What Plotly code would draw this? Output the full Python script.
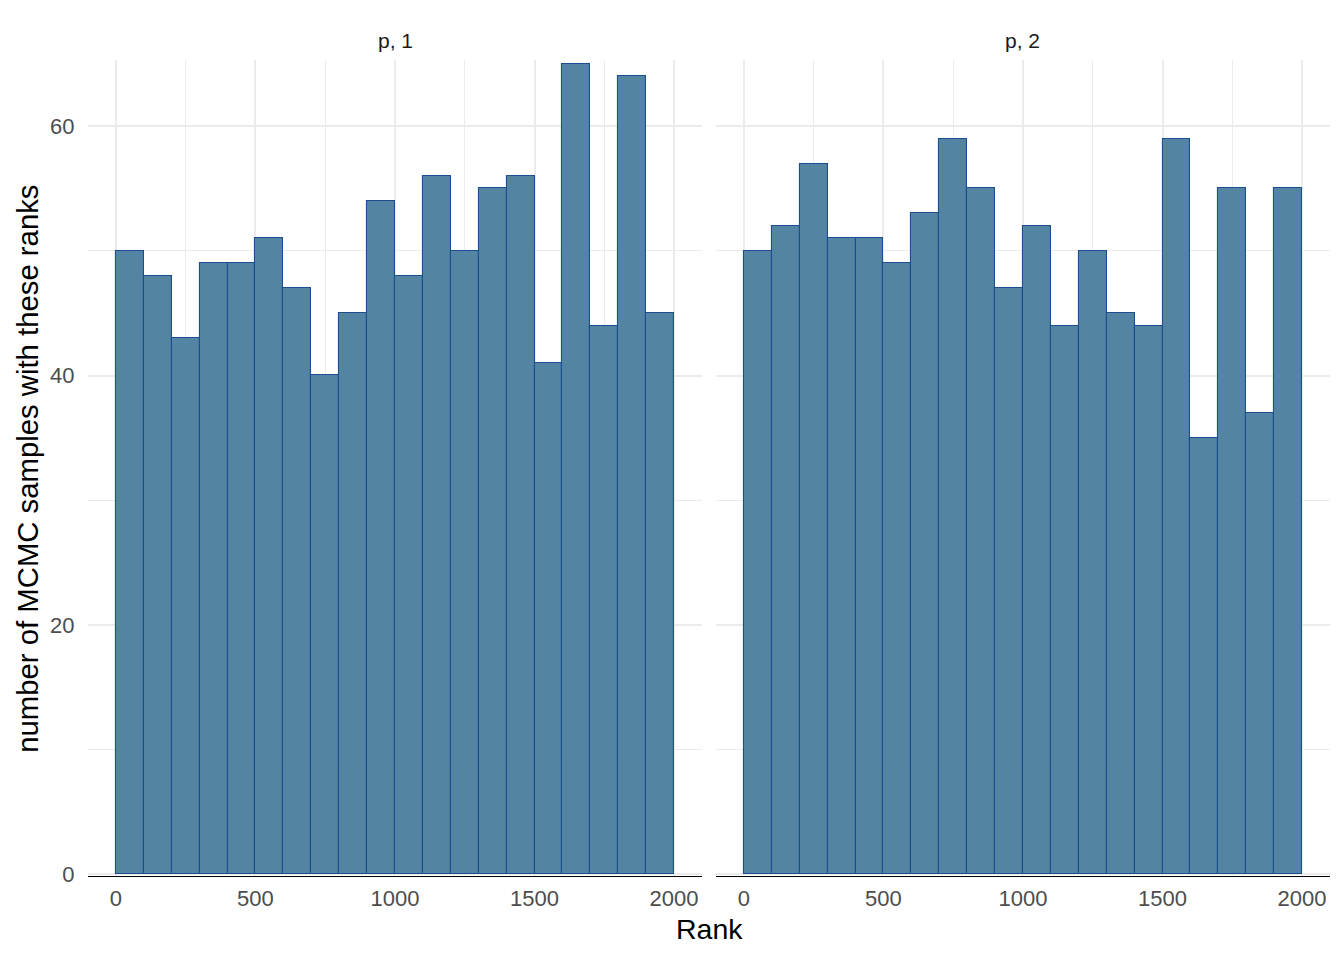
import plotly.graph_objects as go

# Data
bin_starts = list(range(0, 2000, 100))
bin_width = 100
counts_p1 = [50, 48, 43, 49, 49, 51, 47, 40, 45, 54, 48, 56, 50, 55, 56, 41, 65, 44, 64, 45]
counts_p2 = [50, 52, 57, 51, 51, 49, 53, 59, 55, 47, 52, 44, 50, 45, 44, 59, 35, 55, 37, 55]
panel_titles = ["p, 1", "p, 2"]
x_tickvals = [0, 500, 1000, 1500, 2000]
y_tickvals = [0, 20, 40, 60]

FILL = "#5384a4"
EDGE = "#1b4f8f"
GRID = "#ebebeb"
FONT = "Liberation Sans, Arial, Helvetica, sans-serif"

W, H = 1344, 960
OFF = 8            # page body margin
H_EFF = 947.5      # effective rendered height


def fx(x):
    return (x - OFF) / W


def fy(y):
    return 1 - (y - OFF) / H_EFF


centers = [s + bin_width / 2 for s in bin_starts]

fig = go.Figure()
for i, counts in enumerate([counts_p1, counts_p2]):
    ax = "" if i == 0 else "2"
    fig.add_trace(go.Bar(
        x=centers, y=counts, width=[bin_width] * len(counts),
        marker=dict(color=FILL, line=dict(color=EDGE, width=1.1)),
        xaxis="x" + ax, yaxis="y" + ax, showlegend=False,
    ))

doms = [[fx(88), fx(702)], [fx(716), fx(1330)]]
ydom = [fy(875), fy(60)]

common_x = dict(
    range=[-100, 2100], tickvals=x_tickvals, showgrid=True, gridcolor=GRID, gridwidth=1.6,
    minor=dict(dtick=250, tick0=0, showgrid=True, gridcolor=GRID, gridwidth=0.8),
    showline=True, linecolor="black", linewidth=1.2, zeroline=False,
    ticks="outside", ticklen=2, tickcolor="rgba(0,0,0,0)",
    tickfont=dict(family=FONT, size=22, color="#4d4d4d"),
)
common_y = dict(
    range=[-0.16, 65.3], tickvals=y_tickvals, showgrid=True, gridcolor=GRID, gridwidth=1.6,
    minor=dict(dtick=10, tick0=0, showgrid=True, gridcolor=GRID, gridwidth=0.8),
    showline=False, zeroline=False,
    ticks="outside", ticklen=8, tickcolor="rgba(0,0,0,0)",
    tickfont=dict(family=FONT, size=22, color="#4d4d4d"), domain=ydom,
)

fig.update_layout(
    width=W, height=H,
    margin=dict(l=0, r=0, t=0, b=0),
    paper_bgcolor="white", plot_bgcolor="white",
    bargap=0,
    xaxis=dict(domain=doms[0], anchor="y", **common_x),
    xaxis2=dict(domain=doms[1], anchor="y2", **common_x),
    yaxis=dict(anchor="x", showticklabels=True, **common_y),
    yaxis2=dict(anchor="x2", showticklabels=False, **common_y),
    font=dict(family=FONT),
)

annotations = []
for i, t in enumerate(panel_titles):
    annotations.append(dict(
        text=t, x=(doms[i][0] + doms[i][1]) / 2, y=fy(40),
        xref="paper", yref="paper", showarrow=False,
        font=dict(family=FONT, size=21, color="#1a1a1a"),
        xanchor="center", yanchor="middle",
    ))
annotations.append(dict(
    text="Rank", x=fx(709), y=fy(928), xref="paper", yref="paper",
    showarrow=False, font=dict(family=FONT, size=28.5, color="black"),
    xanchor="center", yanchor="middle",
))
annotations.append(dict(
    text="number of MCMC samples with these ranks", x=fx(28), y=fy(468),
    xref="paper", yref="paper", showarrow=False, textangle=-90,
    font=dict(family=FONT, size=29.3, color="black"),
    xanchor="center", yanchor="middle",
))
fig.update_layout(annotations=annotations)

fig.write_html("out.html")
